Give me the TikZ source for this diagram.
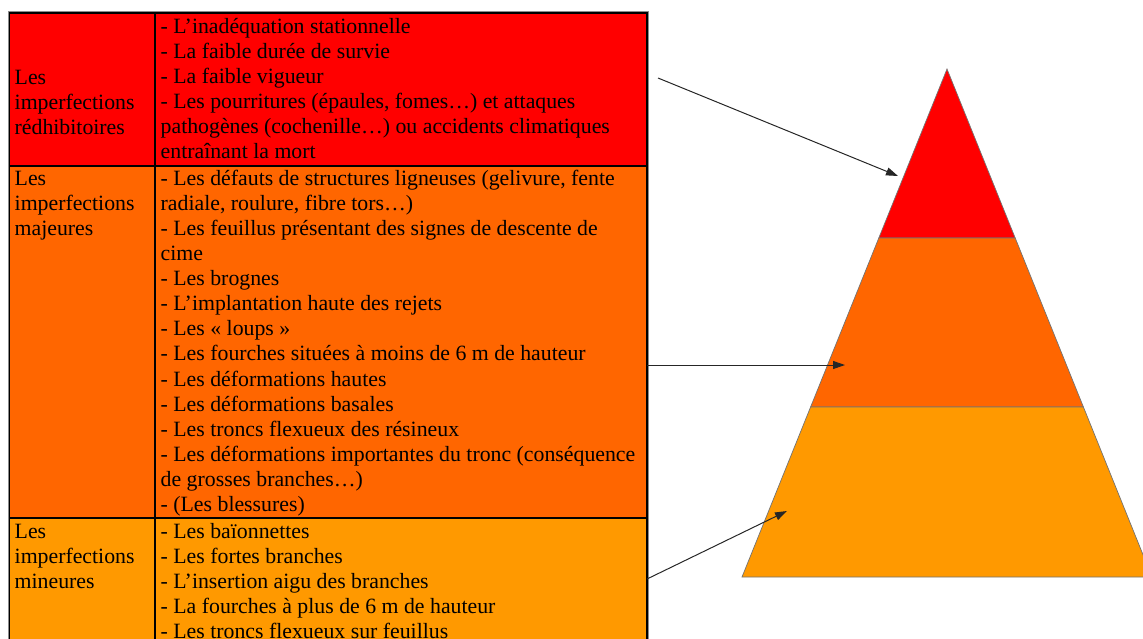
\documentclass[tikz,border=0pt]{standalone}
\usepackage{fontspec}
\setmainfont{Liberation Serif}
\usetikzlibrary{arrows.meta}
\definecolor{cRed}{HTML}{FF0000}
\definecolor{cOrange}{HTML}{FF6600}
\definecolor{cAmber}{HTML}{FF9900}
\newcommand{\tallstrut}{\rule{0pt}{18pt}}
\begin{document}
\begin{tikzpicture}[x=1pt,y=-1pt,
  cell/.style={anchor=north west, inner sep=0pt, align=left, font=\fontsize{21.8}{25.1}\selectfont},
  grid/.style={draw=black, line width=1.3pt},
  band/.style={draw=black!55, line width=0.7pt},
  pointer/.style={draw=black!85, line width=1pt, -{Triangle[length=12pt,width=8pt]}}]
\useasboundingbox (0,0) rectangle (1143,638);
\clip (0,0) rectangle (1143,638);
% table background
\fill[cRed] (9.5,13) rectangle (647,166);
\fill[cOrange] (9.5,166) rectangle (647,518);
\fill[cAmber] (9.5,518) rectangle (647,660);
\draw[black!45, line width=0.8pt] (8,660) -- (8,11.5) -- (648.5,11.5) -- (648.5,660);
\draw[grid] (9.5,660) -- (9.5,13) -- (647,13) -- (647,660);
\draw[grid] (155,13) -- (155,660);
\draw[grid] (9.5,166) -- (647,166);
\draw[grid] (9.5,518) -- (647,518);
% cell texts
\node[cell] (redL) at (14.5,66.5) {\tallstrut Les\\imperfections\\rédhibitoires};
\node[cell] (redR) at (160.5,15) {\tallstrut- L’inadéquation stationnelle\\- La faible durée de survie\\- La faible vigueur\\- Les pourritures (épaules, fomes…) et attaques\\pathogènes (cochenille…) ou accidents climatiques\\entraînant la mort};
\node[cell] (oraL) at (14.5,167) {\tallstrut Les\\imperfections\\majeures};
\node[cell] (oraR) at (160.5,167) {\tallstrut- Les défauts de structures ligneuses (gelivure, fente\\radiale, roulure, fibre tors…)\\- Les feuillus présentant des signes de descente de\\cime\\- Les brognes\\- L’implantation haute des rejets\\- Les « loups »\\- Les fourches situées à moins de 6 m de hauteur\\- Les déformations hautes\\- Les déformations basales\\- Les troncs flexueux des résineux\\- Les déformations importantes du tronc (conséquence\\de grosses branches…)\\- (Les blessures)};
\node[cell] (ambL) at (14.5,520) {\tallstrut Les\\imperfections\\mineures};
\node[cell] (ambR) at (160.5,520) {\tallstrut- Les baïonnettes\\- Les fortes branches\\- L’insertion aigu des branches\\- La fourches à plus de 6 m de hauteur\\- Les troncs flexueux sur feuillus};
% pyramid
\path[fill=cRed, band] (947,69) -- (1015.2,238) -- (878.8,238) -- cycle;
\path[fill=cOrange, band] (878.8,238) -- (1015.2,238) -- (1083.4,407) -- (810.6,407) -- cycle;
\path[fill=cAmber, band] (810.6,407) -- (1083.4,407) -- (1152,577) -- (742,577) -- cycle;
% arrows
\coordinate (srcTop) at (658,78);
\coordinate (tipTop) at (898,176);
\coordinate (srcMid) at (647,365);
\coordinate (tipMid) at (845,365);
\coordinate (srcLow) at (647,579);
\coordinate (tipLow) at (787,511);
\draw[pointer] (srcTop) -- (tipTop);
\draw[pointer] (srcMid) -- (tipMid);
\draw[pointer] (srcLow) -- (tipLow);
\end{tikzpicture}
\end{document}
